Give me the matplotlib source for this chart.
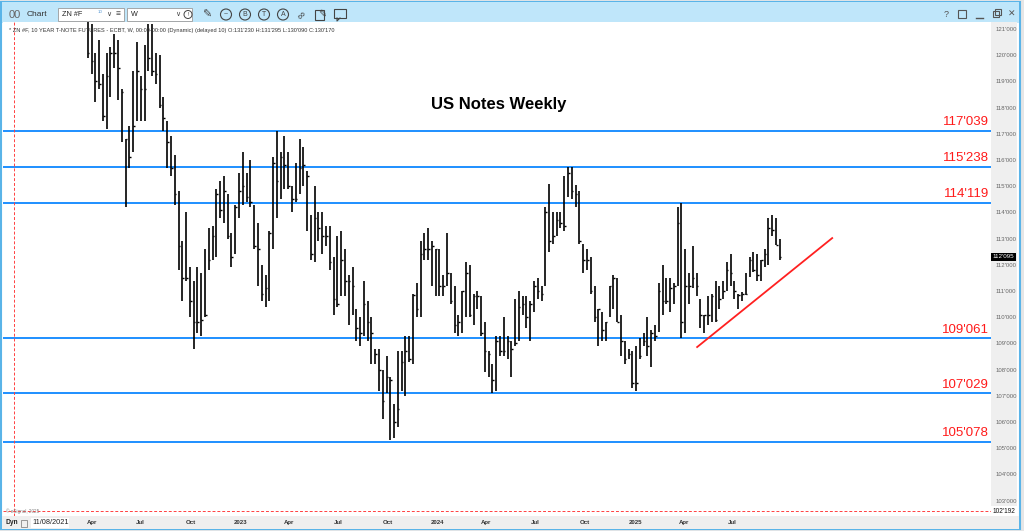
import matplotlib
matplotlib.use('Agg')
import matplotlib.pyplot as plt
import matplotlib.dates as mdates
from matplotlib.patches import Rectangle, Circle
from matplotlib.ticker import FuncFormatter
import numpy as np
import pandas as pd

plt.rcParams['font.family'] = ['Liberation Sans', 'DejaVu Sans']

# weekly HLC bars, ZN 10 year note futures
highs = [
    122.8, 121.2, 120.1, 120.6, 119.3, 120.1, 120.3, 120.8, 120.6, 118.7,
    116.8, 117.3, 119.4, 120.5, 119.2, 120.4, 121.2, 121.2, 120.1, 120.0,
    118.4, 117.5, 116.9, 116.2, 114.8, 112.9, 114.0, 111.9, 111.4, 111.9,
    111.7, 112.6, 113.4, 113.5, 114.9, 115.2, 115.4, 114.7, 113.2, 114.3,
    115.5, 116.3, 115.5, 116.0, 114.3, 113.6, 112.0, 111.6, 113.3, 116.1,
    117.1, 116.3, 116.9, 116.3, 115.0, 115.9, 116.8, 116.5, 115.6, 113.9,
    115.0, 114.0, 114.0, 113.5, 113.5, 112.3, 113.1, 113.3, 112.6, 111.6,
    111.9, 110.3, 110.0, 111.4, 110.6, 110.0, 108.8, 108.8, 108.0, 108.5,
    107.7, 106.7, 108.7, 108.7, 109.3, 109.3, 110.9, 111.3, 112.9, 113.2,
    113.4, 112.9, 112.6, 112.6, 111.6, 113.2, 111.7, 111.2, 110.1, 111.0,
    112.1, 112.0, 110.9, 111.0, 110.8, 109.8, 108.7, 108.2, 109.3, 109.3,
    110.0, 109.3, 109.1, 110.7, 111.0, 110.8, 110.8, 110.6, 111.4, 111.5,
    111.2, 114.2, 115.1, 114.0, 114.0, 114.0, 115.4, 115.75, 115.75, 115.05,
    114.8, 112.8, 112.6, 112.3, 111.2, 110.3, 110.2, 109.8, 111.2, 111.6,
    111.5, 110.1, 109.1, 108.8, 108.7, 108.9, 109.2, 109.4, 110.0, 109.5,
    109.7, 111.3, 112.0, 111.5, 111.5, 111.3, 114.2, 114.35, 112.6, 111.7,
    112.7, 111.7, 110.7, 110.1, 110.8, 110.9, 111.4, 111.2, 111.4, 112.1,
    112.4, 111.4, 110.9, 110.97, 111.7, 112.3, 112.5, 112.4, 112.2, 112.6,
    113.8, 113.9, 113.8, 113.0,
]
lows = [
    119.9, 119.3, 118.2, 118.7, 117.5, 117.2, 118.4, 119.5, 118.3, 116.7,
    114.2, 115.7, 116.3, 117.5, 117.5, 117.5, 119.4, 119.2, 118.9, 118.0,
    117.1, 115.7, 115.4, 114.3, 111.8, 110.6, 111.4, 110.0, 108.8, 109.4,
    109.3, 110.0, 111.8, 112.2, 112.3, 113.8, 113.6, 113.0, 111.9, 112.4,
    113.8, 114.3, 114.4, 114.2, 112.6, 111.2, 110.6, 110.4, 110.6, 112.6,
    113.8, 114.5, 114.9, 114.9, 114.0, 114.4, 114.7, 115.0, 113.3, 112.2,
    112.1, 112.9, 112.4, 112.7, 111.8, 110.1, 110.4, 110.8, 110.8, 109.7,
    110.1, 109.1, 108.9, 109.3, 109.1, 108.2, 108.2, 107.2, 106.1, 107.1,
    105.3, 105.4, 105.8, 107.2, 107.0, 108.3, 108.2, 110.0, 110.0, 112.2,
    112.2, 111.2, 110.8, 110.8, 110.8, 111.2, 110.5, 109.4, 109.3, 109.4,
    110.0, 110.0, 109.7, 110.3, 109.3, 107.9, 107.7, 107.1, 107.2, 108.5,
    108.5, 108.4, 107.7, 108.9, 109.1, 110.1, 109.6, 109.1, 110.2, 110.7,
    110.6, 111.2, 112.5, 112.8, 113.1, 113.4, 113.3, 114.6, 114.5, 114.2,
    112.8, 111.7, 111.8, 110.9, 109.8, 108.9, 109.1, 109.1, 110.0, 110.3,
    109.8, 108.5, 108.2, 108.4, 107.3, 107.2, 108.4, 108.9, 108.5, 108.1,
    109.1, 109.45, 110.1, 110.5, 110.2, 110.5, 111.2, 109.2, 109.4, 110.5,
    111.1, 110.8, 109.6, 109.4, 109.7, 109.8, 109.8, 110.3, 110.7, 111.0,
    111.2, 110.7, 110.3, 110.6, 110.85, 111.55, 111.74, 111.4, 111.4, 111.9,
    112.0, 113.1, 112.76, 112.2,
]
closes = [
    120.1, 119.8, 119.0, 118.9, 117.7, 119.2, 120.1, 120.1, 119.5, 118.6,
    116.8, 116.1, 117.3, 119.4, 118.7, 118.7, 119.9, 119.4, 119.3, 118.1,
    117.6, 116.7, 115.7, 114.7, 112.7, 111.5, 111.5, 110.6, 109.8, 109.8,
    109.9, 110.1, 112.2, 113.1, 114.7, 114.1, 114.8, 113.1, 112.3, 114.2,
    114.8, 115.0, 114.6, 114.4, 112.7, 112.6, 110.9, 111.1, 113.2, 115.9,
    115.2, 116.1, 115.8, 115.0, 114.5, 114.5, 115.7, 115.8, 115.4, 112.4,
    113.8, 113.4, 113.1, 113.1, 112.1, 110.7, 110.5, 112.2, 111.4, 111.4,
    111.2, 109.6, 109.4, 110.5, 109.8, 109.4, 108.6, 108.0, 106.8, 107.7,
    107.6, 106.0, 106.5, 108.3, 108.7, 108.4, 110.85, 110.3, 112.4, 112.6,
    112.6, 112.7, 112.6, 111.2, 111.2, 111.7, 110.6, 109.7, 109.8, 111.0,
    111.7, 110.1, 110.8, 110.8, 109.4, 108.7, 108.6, 107.6, 109.1, 108.7,
    108.7, 109.1, 108.8, 109.0, 110.4, 110.5, 110.0, 110.5, 111.2, 111.0,
    110.9, 114.0, 112.9, 113.1, 113.7, 113.6, 113.5, 115.5, 114.8, 114.7,
    112.9, 112.2, 112.2, 111.0, 110.0, 110.3, 109.5, 109.8, 111.2, 111.5,
    109.8, 109.1, 108.4, 108.6, 107.5, 107.5, 108.5, 109.1, 108.9, 109.4,
    109.3, 111.0, 110.6, 110.6, 111.1, 111.2, 113.6, 109.8, 111.2, 111.2,
    111.5, 111.2, 110.1, 110.1, 110.1, 110.8, 109.9, 110.7, 111.0, 111.8,
    111.7, 111.0, 110.85, 110.9, 110.9, 112.2, 111.8, 111.6, 112.2, 112.4,
    113.4, 113.33, 112.76, 112.3,
]
last_bar = '2025-09-26'

# horizontal levels (32nds)
level_labels = ["117'039", "115'238", "114'119", "109'061", "107'029", "105'078"]
# trend line drawn on the chart
trend_dates = ['2025-04-26', '2026-01-01']
trend_prices = [108.86, 113.02]

tick_dates = ['2022-04-01', '2022-07-01', '2022-10-01', '2023-01-01', '2023-04-01',
              '2023-07-01', '2023-10-01', '2024-01-01', '2024-04-01', '2024-07-01',
              '2024-10-01', '2025-01-01', '2025-04-01', '2025-07-01']
tick_labels = ['Apr', 'Jul', 'Oct', '2023', 'Apr', 'Jul', 'Oct', '2024', 'Apr', 'Jul',
               'Oct', '2025', 'Apr', 'Jul']
session_start = '2021-11-08'
last_tag = "112'095"
low_tag = "102'192"
header = ("* ZN #F, 10 YEAR T-NOTE FUTURES - ECBT, W, 00:00-00:00 (Dynamic) (delayed 10) "
          "O:131'230 H:131'295 L:130'090 C:130'170")


def from32(s):
    whole, frac = s.split("'")
    return int(whole) + int(frac) / 320.0


def fmt32(v, pos=None):
    whole = int(np.floor(v + 1e-6))
    frac = int(round((v - whole) * 320))
    return f"{whole}'{frac:03d}"


W, H = 1024, 531
fig = plt.figure(figsize=(W / 100, H / 100), dpi=100)
fig.patch.set_facecolor('#e6e6e6')

# ---- window chrome, drawn in pixel coordinates ----
bg = fig.add_axes([0, 0, 1, 1])
bg.set_xlim(0, W)
bg.set_ylim(H, 0)
bg.axis('off')
blue_edge = '#5ab4e8'
bg.add_patch(Rectangle((1, 2), 1019, 527, facecolor='white', edgecolor=blue_edge, lw=1.5))
bg.add_patch(Rectangle((2, 2), 1017, 20.5, facecolor='#bfe6fa', edgecolor='none'))
bg.add_patch(Rectangle((991, 22), 26, 494, facecolor='#efefef', edgecolor='none'))
bg.add_patch(Rectangle((2, 516), 1017, 12.5, facecolor='#efefef', edgecolor='none'))

ic = '#444444'
bg.text(9, 14.5, '00', fontsize=8, color='#666666', va='center')
bg.text(27, 14.5, 'Chart', fontsize=6, color='#333333', va='center')
bg.add_patch(Rectangle((58, 8), 66, 13, facecolor='white', edgecolor='#9a9a9a', lw=0.6))
bg.text(62, 14.5, 'ZN #F', fontsize=5.2, color='#222222', va='center')
bg.text(98, 12, '10', fontsize=3.2, color='#5a9bd5', va='center')
bg.text(106, 14.5, '∨', fontsize=5, color=ic, va='center')
bg.text(116, 14.5, '≡', fontsize=6, color=ic, va='center')
bg.add_patch(Rectangle((127, 8), 65, 13, facecolor='white', edgecolor='#9a9a9a', lw=0.6))
bg.text(131, 14.5, 'W', fontsize=5.2, color='#222222', va='center')
bg.text(175, 14.5, '∨', fontsize=5, color=ic, va='center')
bg.add_patch(Circle((188, 14.5), 4, facecolor='none', edgecolor=ic, lw=0.7))
bg.text(188, 14.5, '!', fontsize=4, color=ic, ha='center', va='center')
bg.text(207, 14.5, '✎', fontsize=8, color=ic, ha='center', va='center')
for cx, letter in [(226, '~'), (245, 'B'), (264, 'T'), (283, 'A')]:
    bg.add_patch(Circle((cx, 14.5), 5.5, facecolor='none', edgecolor=ic, lw=0.8))
    bg.text(cx, 14.8, letter, fontsize=5, color=ic, ha='center', va='center')
bg.text(301, 14.5, '∞', fontsize=8, color=ic, ha='center', va='center', rotation=45)
bg.add_patch(Rectangle((315, 9.5), 9, 10, facecolor='none', edgecolor=ic, lw=0.8))
bg.text(322, 13.5, '✎', fontsize=7, color=ic, ha='center', va='center')
bg.add_patch(Rectangle((334, 9), 12, 9, facecolor='none', edgecolor=ic, lw=0.8))
bg.plot([337, 337, 340], [18, 21, 18], color=ic, lw=0.8)
bg.text(946, 14.5, '?', fontsize=6.5, color='#555555', ha='center', va='center')
bg.add_patch(Rectangle((958, 10), 8, 8, facecolor='none', edgecolor='#555555', lw=0.8))
bg.plot([976, 983], [18, 18], color='#555555', lw=1.0)
bg.add_patch(Rectangle((993, 11), 6, 6, facecolor='none', edgecolor='#555555', lw=0.8))
bg.add_patch(Rectangle((995, 9), 6, 6, facecolor='none', edgecolor='#555555', lw=0.8))
bg.text(1012, 14.5, '✕', fontsize=6.5, color='#555555', ha='center', va='center')

bg.text(5, 523, 'Dyn', fontsize=4.8, fontweight='bold', color='#222222', va='center')
bg.add_patch(Rectangle((21, 519.5), 6, 7, facecolor='none', edgecolor='#888888', lw=0.6))
bg.add_patch(Rectangle((31, 517.5), 38, 10.5, facecolor='white', edgecolor='none'))
bg.text(32, 523, '11/08/2021', fontsize=5.3, color='#222222', va='center')

# ---- price chart ----
ax = fig.add_axes([3 / W, (H - 516) / H, 988 / W, 494 / H])
ax.set_facecolor('white')
for sp in ax.spines.values():
    sp.set_visible(False)

dates = pd.date_range(end=last_bar, periods=len(highs), freq='W-FRI')
xd = mdates.date2num(dates.to_pydatetime())
ax.vlines(xd, lows, highs, color='black', lw=1.2)
ax.hlines(closes, xd, xd + 3, color='black', lw=1.0)

for lab in level_labels:
    lv = from32(lab)
    ax.axhline(lv, color='#1e8fff', lw=1.4, zorder=1)
    ax.text(0.998, lv + 0.09, lab, transform=ax.get_yaxis_transform(), ha='right',
            va='bottom', fontsize=9.5, color='#ff1a1a')

td = mdates.date2num(pd.to_datetime(trend_dates).to_pydatetime())
ax.plot(td, trend_prices, color='#ff2020', lw=1.3)

low_val = from32(low_tag)
ax.axhline(low_val, color='#ff4040', lw=0.7, ls=(0, (3, 2)))
ax.axvline(mdates.date2num(pd.Timestamp(session_start)), color='#ff4040', lw=0.7,
           ls=(0, (3, 2)))

ax.set_xlim(mdates.date2num(pd.Timestamp('2021-10-19')),
            mdates.date2num(pd.Timestamp('2026-10-22')))
ax.set_ylim(102.41, 121.27)

ax.yaxis.tick_right()
ax.set_yticks(np.arange(103, 122, 1))
ax.yaxis.set_major_formatter(FuncFormatter(fmt32))
ax.tick_params(axis='y', length=0, pad=3, labelsize=4.3, labelcolor='#666666')

xt = mdates.date2num(pd.to_datetime(tick_dates).to_pydatetime())
ax.set_xticks(xt, tick_labels)
ax.tick_params(axis='x', length=0, pad=2.6, labelsize=4.4, labelcolor='#333333')
for t in ax.get_xticklabels():
    t.set_fontweight('bold')

ax.text(1.0015, closes[-1], last_tag, transform=ax.get_yaxis_transform(), ha='left',
        va='center', fontsize=4.5, color='white',
        bbox=dict(boxstyle='square,pad=0.25', facecolor='black', edgecolor='none'))
ax.text(1.0015, low_val, low_tag, transform=ax.get_yaxis_transform(), ha='left',
        va='center', fontsize=4.7, color='#111111',
        bbox=dict(boxstyle='square,pad=0.2', facecolor='white', edgecolor='none'))

ax.text(0.502, 0.834, 'US Notes Weekly', transform=ax.transAxes, ha='center',
        va='center', fontsize=12, fontweight='bold', color='black')
ax.text(0.006, 0.982, header, transform=ax.transAxes, ha='left', va='center',
        fontsize=4.1, color='#333333')
ax.text(0.003, 0.009, '© eSignal, 2025', transform=ax.transAxes, ha='left',
        va='center', fontsize=3.3, color='#888888')

fig.savefig('out.png', dpi=100)
